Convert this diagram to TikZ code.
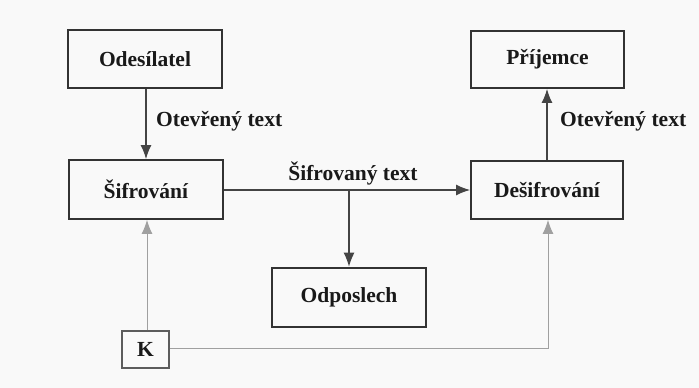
\documentclass[tikz,border=0pt]{standalone}
\usepackage{fontspec}
\setmainfont{Liberation Serif}
\usetikzlibrary{arrows.meta}
\definecolor{bg}{HTML}{F9F9F9}
\definecolor{boxline}{HTML}{333333}
\definecolor{arrline}{HTML}{444444}
\definecolor{keyline}{HTML}{A0A0A0}
\tikzset{
  box/.style={draw=boxline, line width=1.8pt, minimum width=#1, inner sep=0pt, font=\fontsize{21.5}{25}\selectfont\bfseries, text=black!90},
  box/.default=154pt,
  lbl/.style={font=\fontsize{21.5}{25}\selectfont\bfseries, text=black!90, inner sep=0pt},
  tip/.style={-{Latex[length=14pt,width=11pt]}},
  arr/.style={draw=arrline, line width=1.3pt, tip},
  keyarr/.style={draw=keyline, line width=1pt, tip},
}
\begin{document}
\begin{tikzpicture}[x=1pt,y=-1pt]
\fill[bg] (0,0) rectangle (699,388);
\useasboundingbox (0,0) rectangle (699,388);
\node[box, minimum height=58pt] (ode) at (145,59) {Odesílatel};
\node[box, minimum height=59pt] (sif) at (145.8,189.5) {Šifrování};
\node[box=152pt, minimum height=58pt] (des) at (547,190) {Dešifrování};
\node[box=153pt, minimum height=57pt] (pri) at (547.5,59.5) {Příjemce};
\node[box, minimum height=59pt, line width=2.6pt] (odp) at (349,297.5) {Odposlech};
\node[box=47pt, minimum height=37pt, line width=1.3pt, draw=boxline!80] (k) at (145.5,349.5) {K};
\coordinate (br) at (349,190);
\coordinate (kc) at (548,348);
\draw[arr] (ode.south -| 146,0) -- (sif.north -| 146,0);
\node[lbl, anchor=west] (l1) at (156,121) {Otevřený text};
\draw[arr] (sif.east |- br) -- (des.west |- br);
\node[lbl] (l2) at (353,173) {Šifrovaný text};
\draw[arr] (br) -- (odp.north);
\draw[arr] (des.north -| 547,0) -- (pri.south -| 547,0);
\node[lbl, anchor=west] (l3) at (560,121) {Otevřený text};
\draw[keyarr] (k.north -| 147,0) -- (sif.south -| 147,0);
\draw[keyarr] (k.east |- kc) -- (kc) -- (des.south -| kc);
\end{tikzpicture}
\end{document}
